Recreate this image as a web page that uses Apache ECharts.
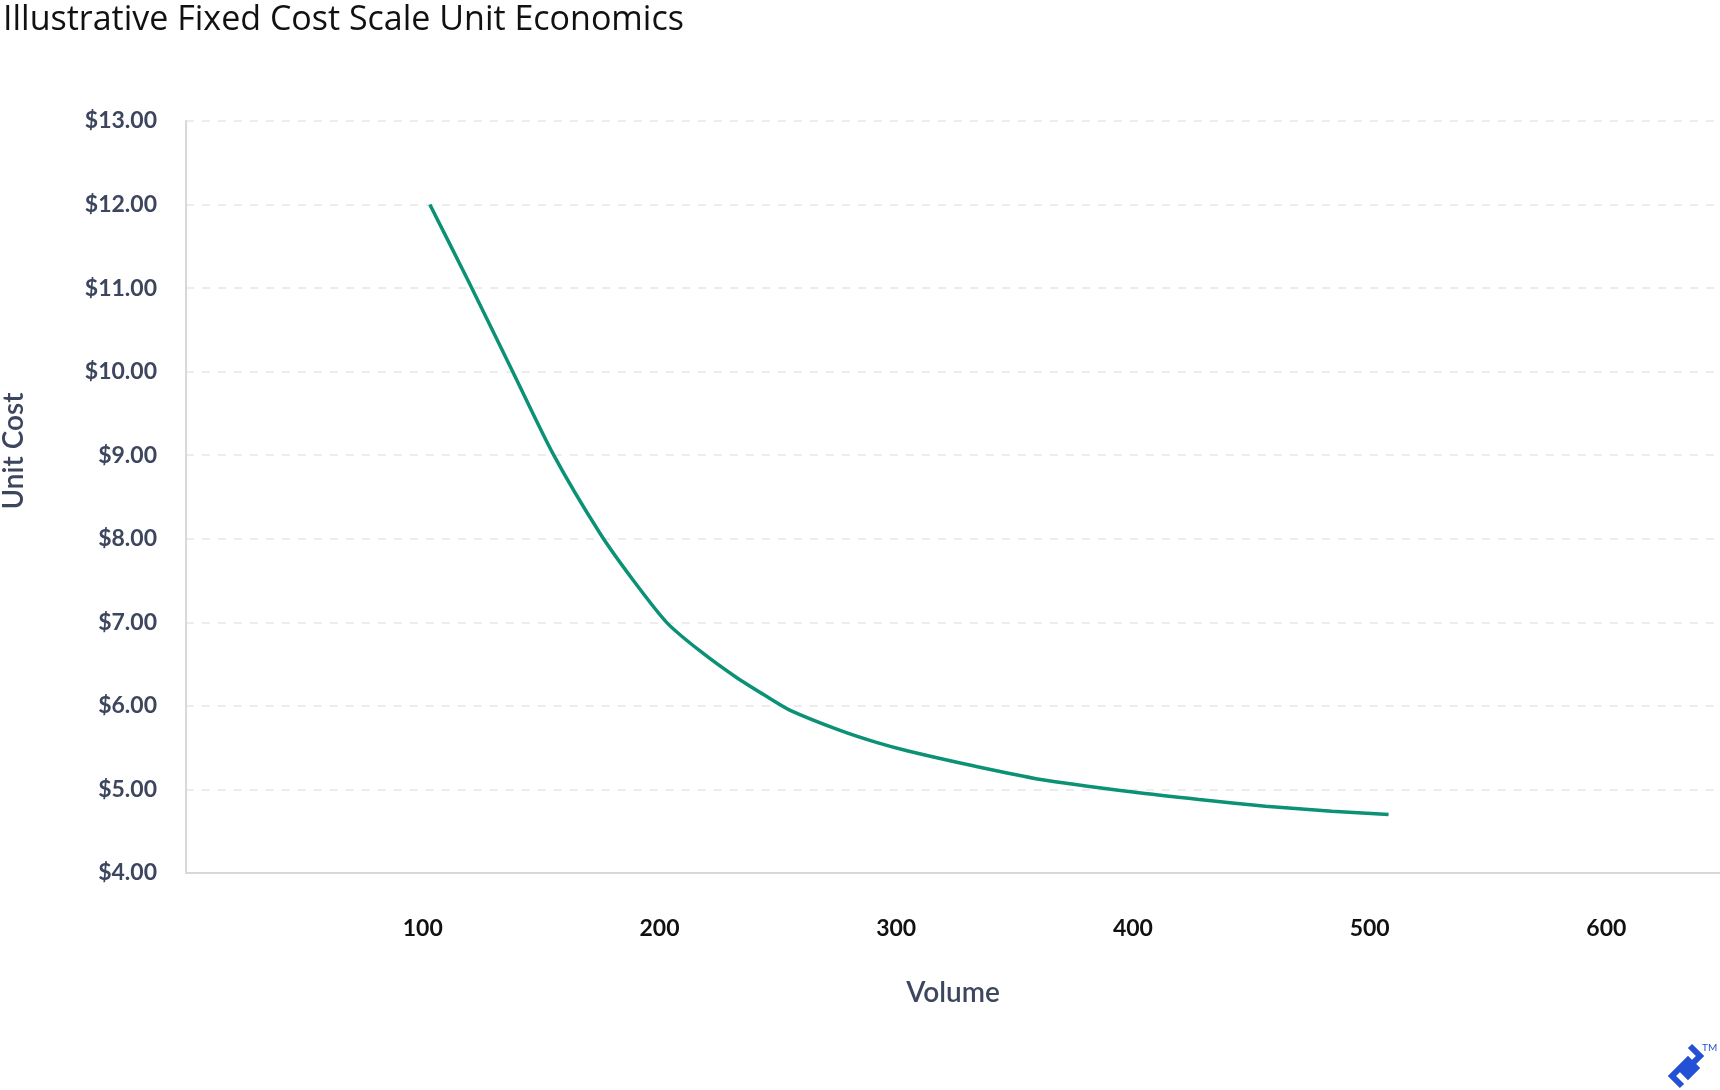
<!DOCTYPE html>
<html>
<head>
<meta charset="utf-8">
<script src="https://cdn.jsdelivr.net/npm/echarts@6/dist/echarts.min.js"></script>
<style>
  html, body { margin: 0; padding: 0; background: #fff; }
  #chart { width: 1720px; height: 1090px; }
</style>
</head>
<body>
<div id="chart"></div>
<script>
// values
const volumes = [103, 119, 137, 155, 175, 189, 203, 217, 233, 246, 255, 276, 292, 305, 333, 361, 400, 428, 456, 484, 508];
const unitCosts = [12.0, 11.1, 10.06, 9.02, 8.06, 7.5, 7.0, 6.66, 6.33, 6.1, 5.95, 5.71, 5.56, 5.46, 5.28, 5.12, 4.97, 4.88, 4.8, 4.74, 4.7];

const titleText = "Illustrative Fixed Cost Scale Unit Economics";
const xName = "Volume";
const yName = "Unit Cost";

const slate = "#3c465e";
const font = "Lato";

const chart = echarts.init(document.getElementById("chart"), null, { renderer: "canvas" });

chart.setOption({
  animation: false,
  title: {
    text: titleText,
    left: -2,
    top: -2,
    textStyle: { fontFamily: "Open Sans", fontSize: 34, fontWeight: "normal", color: "#111" },
  },
  grid: { left: 186, right: 0, top: 121, bottom: 217, outerBoundsMode: "none", containLabel: false },
  xAxis: {
    type: "value",
    min: 0,
    max: 648,
    interval: 100,
    name: xName,
    nameLocation: "middle",
    nameGap: 106,
    nameTextStyle: { fontFamily: font, fontSize: 28, fontWeight: 600, color: slate },
    axisLine: { show: true, lineStyle: { color: "#d7d7dd", width: 2 } },
    axisTick: { show: false },
    splitLine: { show: false },
    axisLabel: {
      showMinLabel: false,
      showMaxLabel: false,
      margin: 44,
      fontFamily: font,
      fontSize: 23,
      fontWeight: "bold",
      color: "#111",
    },
  },
  yAxis: {
    type: "value",
    min: 4,
    max: 13,
    interval: 1,
    name: yName,
    nameLocation: "middle",
    nameGap: 158,
    nameTextStyle: {
      fontFamily: font,
      fontSize: 28,
      fontWeight: 600,
      color: slate,
      padding: [0, 0, 0, 92],
    },
    axisLine: { show: true, lineStyle: { color: "#d7d7dd", width: 2 } },
    axisTick: { show: false },
    splitLine: { show: true, lineStyle: { color: "#e6e6e6", width: 1.5, type: [8, 8] } },
    axisLabel: {
      margin: 29,
      fontFamily: font,
      fontSize: 23,
      fontWeight: "bold",
      color: slate,
      formatter: (v) => "$" + v.toFixed(2),
    },
  },
  series: [
    {
      type: "line",
      data: volumes.map((v, i) => [v, unitCosts[i]]),
      smooth: 0.25,
      showSymbol: false,
      lineStyle: { color: "#0b9176", width: 3.5 },
    },
  ],
  graphic: [
    {
      type: "polyline",
      shape: { points: [[1682, 1086], [1672, 1076], [1688, 1060], [1696, 1068], [1688, 1076], [1684, 1072], [1700, 1056], [1690, 1046]] },
      style: { stroke: "#2450d6", lineWidth: 6, fill: null },
    },
    {
      type: "text",
      left: 1702,
      top: 1043,
      style: { text: "TM", fontFamily: font, fontSize: 10, fill: "#2450d6" },
    },
  ],
});

window.addEventListener("resize", () => chart.resize());
</script>
</body>
</html>
